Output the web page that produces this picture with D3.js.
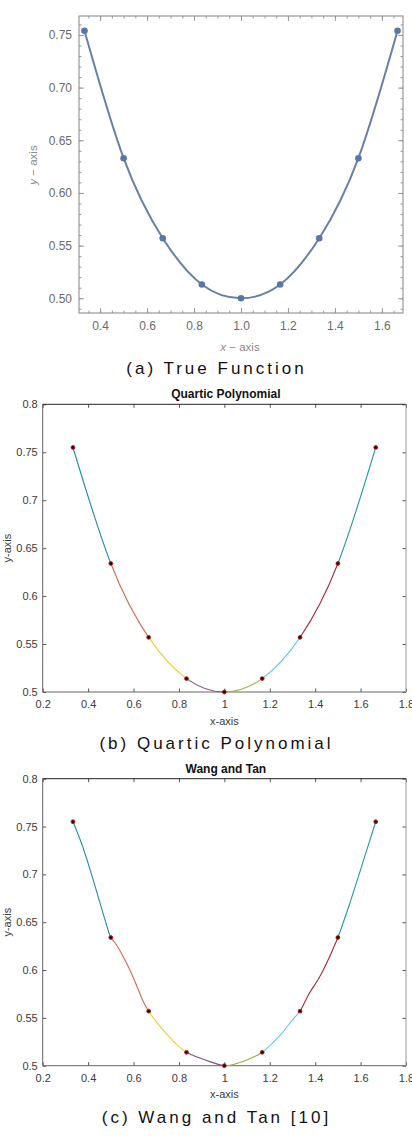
<!DOCTYPE html>
<html>
<head>
<meta charset="utf-8">
<script src="https://cdn.jsdelivr.net/npm/d3@7"></script>
<style>
  html, body { margin: 0; padding: 0; background: #fff; }
  svg { display: block; font-family: "Liberation Sans", Arial, sans-serif; }
</style>
</head>
<body>
<svg id="chart" width="412" height="1144"></svg>
<script>
// ---------------- DATA ----------------
const xNodes = [0.3333, 0.5, 0.6667, 0.8333, 1.0, 1.1667, 1.3333, 1.5, 1.6667];
const trueY = [0.754, 0.633, 0.557, 0.513, 0.500, 0.513, 0.557, 0.633, 0.754];
const quarticY = [0.755, 0.634, 0.557, 0.514, 0.500, 0.514, 0.557, 0.634, 0.755];
const wangTanY = [0.755, 0.634, 0.557, 0.514, 0.500, 0.514, 0.557, 0.634, 0.755];
// Wang and Tan curve (includes the nodes)
const wangTanCurveX = [0.3333, 0.37, 0.41, 0.45, 0.48, 0.5, 0.52, 0.55, 0.584, 0.615, 0.645, 0.6667,
  0.70, 0.75, 0.80, 0.8333, 0.88, 0.94, 1.0, 1.05, 1.11, 1.1667, 1.20, 1.25, 1.30, 1.3333,
  1.37, 1.42, 1.46, 1.48, 1.5, 1.55, 1.60, 1.64, 1.6667];
const wangTanCurveY = [0.755, 0.733, 0.704, 0.672, 0.648, 0.634, 0.628, 0.616, 0.600, 0.583, 0.566, 0.557,
  0.546, 0.532, 0.520, 0.514, 0.509, 0.504, 0.500, 0.502, 0.507, 0.514, 0.521, 0.533, 0.548, 0.557,
  0.574, 0.593, 0.612, 0.623, 0.634, 0.668, 0.705, 0.735, 0.755];
const segmentColors = ["#1f8ca8", "#cf6a4c", "#e8cf3a", "#8a4d84", "#9cb23e", "#62c8e6", "#a52a3c", "#2296ae"];

const aXTicks = [0.4, 0.6, 0.8, 1.0, 1.2, 1.4, 1.6];
const aYTicks = [0.50, 0.55, 0.60, 0.65, 0.70, 0.75];
const mXTicks = [0.2, 0.4, 0.6, 0.8, 1, 1.2, 1.4, 1.6, 1.8];
const mYTicks = [0.5, 0.55, 0.6, 0.65, 0.7, 0.75, 0.8];

const captions = ["(a) True Function", "(b) Quartic Polynomial", "(c) Wang and Tan [10]"];
const titles = ["Quartic Polynomial", "Wang and Tan"];

// ---------------- DRAW ----------------
const svg = d3.select("#chart");
svg.append("rect").attr("width", 412).attr("height", 1144).attr("fill", "#fff");
const defs = svg.append("defs");

function strip(g) { g.select(".domain").remove(); }

// ---- Panel (a): Mathematica style ----
(function () {
  const L = 79, R = 403, T = 16, B = 313;
  const x = d3.scaleLinear().domain([0.31, 1.69]).range([L, R]);
  const y = d3.scaleLinear().domain([0.486, 0.768]).range([B, T]);
  const g = svg.append("g");
  const xMinor = d3.range(0.35, 1.69, 0.05);
  const yMinor = d3.range(0.49, 0.768, 0.01);
  const tickColor = "#9a9a9a";

  const axes = [
    [d3.axisBottom(x).tickValues(aXTicks).tickSize(-5).tickPadding(8).tickFormat(d3.format(".1f")), `translate(0,${B})`],
    [d3.axisBottom(x).tickValues(xMinor).tickSize(-2.5).tickFormat(""), `translate(0,${B})`],
    [d3.axisTop(x).tickValues(aXTicks).tickSize(-5).tickFormat(""), `translate(0,${T})`],
    [d3.axisTop(x).tickValues(xMinor).tickSize(-2.5).tickFormat(""), `translate(0,${T})`],
    [d3.axisLeft(y).tickValues(aYTicks).tickSize(-5).tickPadding(7).tickFormat(d3.format(".2f")), `translate(${L},0)`],
    [d3.axisLeft(y).tickValues(yMinor).tickSize(-2.5).tickFormat(""), `translate(${L},0)`],
    [d3.axisRight(y).tickValues(aYTicks).tickSize(-5).tickFormat(""), `translate(${R},0)`],
    [d3.axisRight(y).tickValues(yMinor).tickSize(-2.5).tickFormat(""), `translate(${R},0)`]
  ];
  axes.forEach(([ax, tr]) => {
    const a = g.append("g").attr("transform", tr).call(ax).call(strip);
    a.selectAll("line").attr("stroke", tickColor);
    a.selectAll("text").attr("fill", "#6a6a6a").attr("font-size", 12).attr("font-family", "Liberation Sans, Arial, sans-serif");
  });
  g.append("rect").attr("x", L).attr("y", T).attr("width", R - L).attr("height", B - T)
    .attr("fill", "none").attr("stroke", "#8f8f8f").attr("stroke-width", 1.1);

  const pts = xNodes.map((d, i) => [d, trueY[i]]);
  g.append("path").datum(pts)
    .attr("d", d3.line().x(d => x(d[0])).y(d => y(d[1])).curve(d3.curveNatural))
    .attr("fill", "none").attr("stroke", "#6780a6").attr("stroke-width", 2);
  g.selectAll("circle.pa").data(pts).join("circle")
    .attr("cx", d => x(d[0])).attr("cy", d => y(d[1])).attr("r", 3.3)
    .attr("fill", "#5677ab");

  const xl = g.append("text").attr("x", 240).attr("y", 350.5).attr("text-anchor", "middle")
    .attr("fill", "#8a8a8a").attr("font-size", 11.5);
  xl.append("tspan").attr("font-style", "italic").text("x");
  xl.append("tspan").text(" \u2212 axis");
  const yl = g.append("text").attr("transform", "translate(37,165) rotate(-90)").attr("text-anchor", "middle")
    .attr("fill", "#8a8a8a").attr("font-size", 11.5);
  yl.append("tspan").attr("font-style", "italic").text("y");
  yl.append("tspan").text(" \u2212 axis");
})();

// ---- MATLAB style panels ----
function matlabPanel(idx, T, B, curveX, curveY, nodeY, curveType, title) {
  const L = 42.7, R = 406;
  const x = d3.scaleLinear().domain([0.2, 1.8]).range([L, R]);
  const y = d3.scaleLinear().domain([0.5, 0.8]).range([B, T]);
  const g = svg.append("g");

  const axes = [
    [d3.axisBottom(x).tickValues(mXTicks).tickSize(-3.5).tickPadding(8.5).tickFormat(d3.format("~g")), `translate(0,${B})`],
    [d3.axisTop(x).tickValues(mXTicks).tickSize(-3.5).tickFormat(""), `translate(0,${T})`],
    [d3.axisLeft(y).tickValues(mYTicks).tickSize(-3.5).tickPadding(5).tickFormat(d3.format("~g")), `translate(${L},0)`],
    [d3.axisRight(y).tickValues(mYTicks).tickSize(-3.5).tickFormat(""), `translate(${R},0)`]
  ];
  axes.forEach(([ax, tr]) => {
    const a = g.append("g").attr("transform", tr).call(ax).call(strip);
    a.selectAll("line").attr("stroke", "#555");
    a.selectAll("text").attr("fill", "#3a3a3a").attr("font-size", 11).attr("font-family", "Liberation Sans, Arial, sans-serif");
  });
  // frame
  g.append("line").attr("x1", L).attr("x2", R).attr("y1", T).attr("y2", T).attr("stroke", "#222");
  g.append("line").attr("x1", L).attr("x2", R).attr("y1", B).attr("y2", B).attr("stroke", "#666");
  g.append("line").attr("x1", L).attr("x2", L).attr("y1", T).attr("y2", B).attr("stroke", "#666");
  g.append("line").attr("x1", R).attr("x2", R).attr("y1", T).attr("y2", B).attr("stroke", "#999");

  // coloured segments by clipping the curve between nodes
  const pts = curveX.map((d, i) => [d, curveY[i]]);
  const line = d3.line().x(d => x(d[0])).y(d => y(d[1])).curve(curveType);
  for (let i = 0; i < xNodes.length - 1; i++) {
    const id = `clip${idx}_${i}`;
    defs.append("clipPath").attr("id", id).append("rect")
      .attr("x", x(xNodes[i])).attr("y", T - 20)
      .attr("width", x(xNodes[i + 1]) - x(xNodes[i])).attr("height", B - T + 40);
    g.append("path").datum(pts).attr("d", line)
      .attr("clip-path", `url(#${id})`)
      .attr("fill", "none").attr("stroke", segmentColors[i]).attr("stroke-width", 1.1);
  }
  g.selectAll("circle.node").data(xNodes.map((d, i) => [d, nodeY[i]])).join("circle")
    .attr("cx", d => x(d[0])).attr("cy", d => y(d[1])).attr("r", 1.9)
    .attr("fill", "#2a0505").attr("stroke", "#c01818").attr("stroke-width", 0.9);

  g.append("text").attr("x", (L + R) / 2 + 1.5).attr("y", T - 6).attr("text-anchor", "middle")
    .attr("font-weight", "bold").attr("font-size", 12).attr("fill", "#111").text(title);
  g.append("text").attr("x", (L + R) / 2).attr("y", B + 32.5).attr("text-anchor", "middle")
    .attr("font-size", 11).attr("fill", "#3a3a3a").text("x-axis");
  g.append("text").attr("transform", `translate(10.5,${(T + B) / 2}) rotate(-90)`).attr("text-anchor", "middle")
    .attr("font-size", 11).attr("fill", "#3a3a3a").text("y-axis");
}

matlabPanel(1, 404.3, 692, xNodes, quarticY, quarticY, d3.curveNatural, titles[0]);
matlabPanel(2, 778.7, 1065.7, wangTanCurveX, wangTanCurveY, wangTanY, d3.curveCatmullRom.alpha(0.5), titles[1]);

// ---- captions ----
const capY = [374, 749, 1123];
captions.forEach((c, i) => {
  svg.append("text").attr("x", 216.5).attr("y", capY[i]).attr("text-anchor", "middle")
    .attr("font-size", 17).attr("letter-spacing", 3).attr("fill", "#111").text(c);
});
</script>
</body>
</html>
